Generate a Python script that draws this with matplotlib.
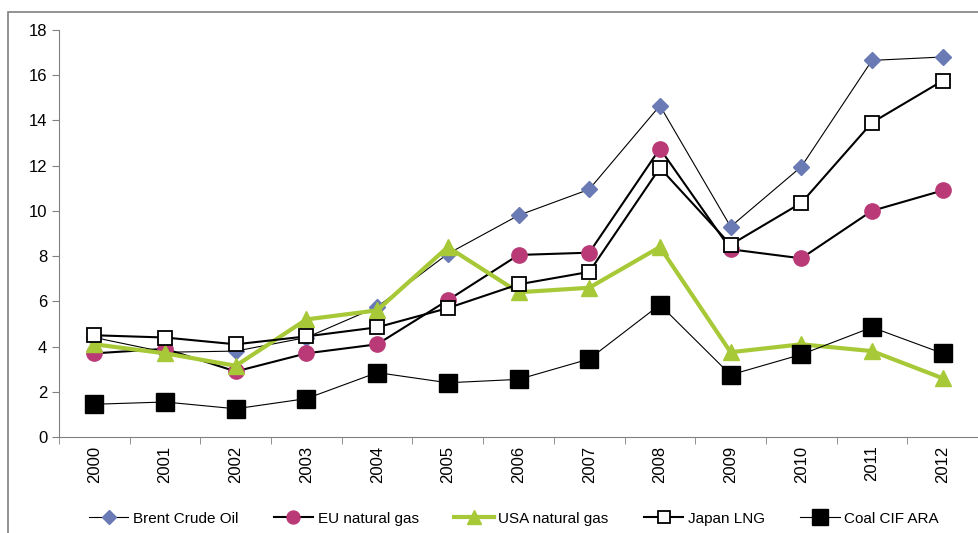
import matplotlib.pyplot as plt
from matplotlib.patches import Rectangle

plt.rcParams['font.family'] = ['Liberation Sans', 'DejaVu Sans']

years = [str(y) for y in range(2000, 2013)]
brent = [4.4, 3.75, 3.8, 4.4, 5.75, 8.1, 9.8, 10.95, 14.65, 9.3, 11.95, 16.65, 16.8]
eu_gas = [3.7, 3.9, 2.9, 3.7, 4.1, 6.05, 8.05, 8.15, 12.75, 8.3, 7.9, 10.0, 10.9]
usa_gas = [4.1, 3.7, 3.15, 5.2, 5.6, 8.4, 6.4, 6.6, 8.4, 3.75, 4.1, 3.8, 2.6]
japan_lng = [4.5, 4.4, 4.1, 4.45, 4.85, 5.7, 6.75, 7.3, 11.9, 8.5, 10.35, 13.9, 15.75]
coal = [1.45, 1.55, 1.25, 1.7, 2.85, 2.4, 2.55, 3.45, 5.85, 2.75, 3.65, 4.85, 3.7]

fig = plt.figure(figsize=(9.79, 5.33), dpi=100)
ax = fig.add_axes([0.0603, 0.180, 0.9387, 0.764])

x = range(len(years))
ax.plot(x, brent, color="black", lw=0.8, marker="D", ms=8.5,
        mfc="#6a7ab4", mec="#6a7ab4", label="Brent Crude Oil")
ax.plot(x, eu_gas, color="black", lw=1.5, marker="o", ms=11,
        mfc="#b93a77", mec="#b93a77", label="EU natural gas")
ax.plot(x, usa_gas, color="#a8c937", lw=3, marker="^", ms=12,
        mfc="#a8c937", mec="#a8c937", label="USA natural gas")
ax.plot(x, japan_lng, color="black", lw=1.5, marker="s", ms=9.5,
        mfc="white", mec="black", mew=1.3, label="Japan LNG")
ax.plot(x, coal, color="black", lw=0.8, marker="s", ms=13,
        mfc="black", mec="black", label="Coal CIF ARA")

ax.set_xlim(-0.5, len(years) - 0.5)
ax.set_ylim(0, 18)
ax.set_yticks(range(0, 19, 2))
ax.set_xticks(list(x))
ax.set_xticklabels(years, rotation=90)
ax.set_xticks([i - 0.5 for i in range(len(years) + 1)], minor=True)
ax.tick_params(axis="x", which="major", length=0, labelsize=12, pad=6)
ax.tick_params(axis="x", which="minor", length=5, color="#808080")
ax.tick_params(axis="y", length=5, labelsize=12, color="#808080")
for s in ["top", "right"]:
    ax.spines[s].set_visible(False)
for s in ["left", "bottom"]:
    ax.spines[s].set_color("#808080")

ax.legend(loc="center", bbox_to_anchor=(0.495, -0.2), ncol=5, frameon=False,
          fontsize=11, handlelength=2.6, columnspacing=2.3, handletextpad=0.3,
          markerscale=0.85)

fig.patches.append(Rectangle((8 / 979, -0.1), 1.2, 1 - 12 / 533 + 0.1,
                             transform=fig.transFigure, fill=False,
                             edgecolor="#808080", lw=1.2))

fig.savefig("out.png", dpi=100)
